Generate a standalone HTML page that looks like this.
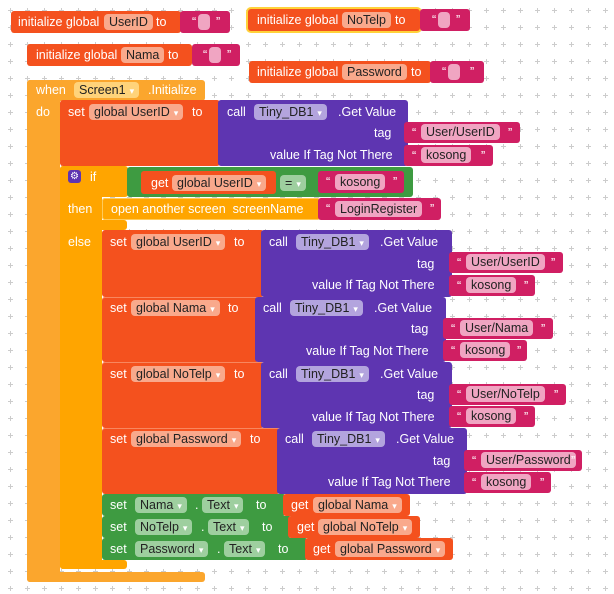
<!DOCTYPE html>
<html><head><meta charset="utf-8"><style>
body{margin:0;width:614px;height:594px;overflow:hidden;background:#fff;font-family:"Liberation Sans",sans-serif;}
#ws{position:absolute;left:0;top:0;width:614px;height:594px;}
.b{position:absolute;border-radius:3px;}
.o{background:#F4511E}.p{background:#5E35B1}.k{background:#D01F63}.g{background:#3E9B41}.y{background:#FFA500}.yo{background:#FBA62D}
.t{position:absolute;color:#fff;font-size:12.5px;line-height:16px;white-space:nowrap}
.f{position:absolute;font-size:12.5px;line-height:16px;height:16px;padding:0 5px;border-radius:4px;color:#222;white-space:nowrap}
.fo{background:#F9A98C}.fp{background:#B3A4DE}.fg{background:#9ECF9F}.fk{background:#F0A5C2}.fy{background:#FFD37A}
.dd{color:#fff;font-size:9px;margin-left:4px}
</style></head><body>
<div id="ws">
<svg width="614" height="594" style="position:absolute;left:0;top:0">
<defs><pattern id="gp" width="17" height="17" patternUnits="userSpaceOnUse" x="2" y="2"><path d="M6 8.5h5M8.5 6v5" stroke="#ccc" stroke-width="1"/></pattern></defs>
<rect width="614" height="594" fill="url(#gp)"/></svg>

<!-- global inits -->
<div class="b o" style="left:11px;top:11px;width:170px;height:22px"></div>
<span class="t" style="left:18px;top:14px">initialize global</span>
<span class="f fo" style="left:104px;top:14px">UserID</span>
<span class="t" style="left:156px;top:14px">to</span>
<div class="b k" style="left:180px;top:11px;width:50px;height:22px"><span class="t" style="left:12px;top:3px">“</span><span class="f fk" style="left:18px;top:3px;width:2px;padding:0 5px"></span><span class="t" style="left:36px;top:3px">”</span></div>

<div class="b o" style="left:248px;top:9px;width:172px;height:22px;box-shadow:0 0 0 2px #FFD23A"></div>
<span class="t" style="left:257px;top:12px">initialize global</span>
<span class="f fo" style="left:342px;top:12px">NoTelp</span>
<span class="t" style="left:395px;top:12px">to</span>
<div class="b k" style="left:420px;top:9px;width:50px;height:22px"><span class="t" style="left:12px;top:3px">“</span><span class="f fk" style="left:18px;top:3px;width:2px"></span><span class="t" style="left:36px;top:3px">”</span></div>

<div class="b o" style="left:27px;top:44px;width:165px;height:22px"></div>
<span class="t" style="left:36px;top:47px">initialize global</span>
<span class="f fo" style="left:121px;top:47px">Nama</span>
<span class="t" style="left:168px;top:47px">to</span>
<div class="b k" style="left:192px;top:44px;width:48px;height:22px"><span class="t" style="left:11px;top:3px">“</span><span class="f fk" style="left:17px;top:3px;width:2px"></span><span class="t" style="left:35px;top:3px">”</span></div>

<div class="b o" style="left:249px;top:61px;width:182px;height:22px"></div>
<span class="t" style="left:257px;top:64px">initialize global</span>
<span class="f fo" style="left:342px;top:64px">Password</span>
<span class="t" style="left:411px;top:64px">to</span>
<div class="b k" style="left:430px;top:61px;width:54px;height:22px"><span class="t" style="left:12px;top:3px">“</span><span class="f fk" style="left:18px;top:3px;width:2px"></span><span class="t" style="left:40px;top:3px">”</span></div>

<!-- when block -->
<div class="b yo" style="left:27px;top:80px;width:178px;height:21px"></div>
<div class="b yo" style="left:27px;top:80px;width:33px;height:502px"></div>
<div class="b yo" style="left:27px;top:572px;width:178px;height:10px"></div>
<span class="t" style="left:36px;top:82px">when</span>
<span class="f fy" style="left:74px;top:82px">Screen1<span class="dd">▾</span></span>
<span class="t" style="left:148px;top:82px">.Initialize</span>
<span class="t" style="left:36px;top:104px">do</span>

<!-- set UserID 1 -->
<div class="b o" style="left:60px;top:100px;width:160px;height:66px"></div>
<span class="t" style="left:68px;top:104px">set</span>
<span class="f fo" style="left:89px;top:104px">global UserID<span class="dd">▾</span></span>
<span class="t" style="left:192px;top:104px">to</span>
<div class="b p" style="left:218px;top:100px;width:190px;height:66px"></div>
<span class="t" style="left:227px;top:104px">call</span>
<span class="f fp" style="left:254px;top:104px">Tiny_DB1<span class="dd">▾</span></span>
<span class="t" style="left:338px;top:104px">.Get Value</span>
<span class="t" style="left:374px;top:125px">tag</span>
<span class="t" style="left:270px;top:147px">value If Tag Not There</span>
<div class="b k" style="left:404px;top:122px;width:116px;height:21px"><span class="t" style="left:8px;top:3px">“</span><span class="f fk" style="left:17px;top:2px">User/UserID</span><span class="t" style="left:104px;top:3px">”</span></div>
<div class="b k" style="left:404px;top:145px;width:89px;height:21px"><span class="t" style="left:8px;top:3px">“</span><span class="f fk" style="left:17px;top:2px">kosong</span><span class="t" style="left:77px;top:3px">”</span></div>

<!-- if block -->
<div class="b y" style="left:60px;top:166px;width:68px;height:31px"></div>
<div class="b y" style="left:60px;top:166px;width:42px;height:403px"></div>
<div class="b y" style="left:60px;top:560px;width:67px;height:9px"></div>
<div class="b y" style="left:60px;top:220px;width:67px;height:10px"></div>
<div class="b" style="left:68px;top:170px;width:13px;height:13px;background:#5E35B1;color:#fff;font-size:10px;line-height:13px;text-align:center">⚙</div>
<span class="t" style="left:90px;top:169px">if</span>
<span class="t" style="left:68px;top:201px">then</span>
<span class="t" style="left:68px;top:234px">else</span>
<div class="b g" style="left:127px;top:167px;width:286px;height:30px"></div>
<div class="b o" style="left:141px;top:171px;width:135px;height:23px"></div>
<span class="t" style="left:151px;top:175px">get</span>
<span class="f fo" style="left:172px;top:175px">global UserID<span class="dd">▾</span></span>
<span class="f fg" style="left:280px;top:175px">=<span class="dd">▾</span></span>
<div class="b k" style="left:318px;top:171px;width:86px;height:22px"><span class="t" style="left:8px;top:3px">“</span><span class="f fk" style="left:17px;top:3px">kosong</span><span class="t" style="left:75px;top:3px">”</span></div>
<div class="b y" style="left:102px;top:198px;width:218px;height:22px;box-shadow:inset 0 0 0 1px #FFCB5A"></div>
<span class="t" style="left:111px;top:201px">open another screen&nbsp; screenName</span>
<div class="b k" style="left:318px;top:198px;width:123px;height:22px"><span class="t" style="left:8px;top:3px">“</span><span class="f fk" style="left:17px;top:3px">LoginRegister</span><span class="t" style="left:112px;top:3px">”</span></div>

<!-- else sets -->
<div class="b o" style="left:102px;top:230px;width:162px;height:67px"></div>
<span class="t" style="left:110px;top:234px">set</span>
<span class="f fo" style="left:131px;top:234px">global UserID<span class="dd">▾</span></span>
<span class="t" style="left:234px;top:234px">to</span>
<div class="b p" style="left:261px;top:230px;width:191px;height:67px"></div>
<span class="t" style="left:269px;top:234px">call</span>
<span class="f fp" style="left:296px;top:234px">Tiny_DB1<span class="dd">▾</span></span>
<span class="t" style="left:380px;top:234px">.Get Value</span>
<span class="t" style="left:417px;top:256px">tag</span>
<span class="t" style="left:312px;top:277px">value If Tag Not There</span>
<div class="b k" style="left:449px;top:252px;width:114px;height:21px"><span class="t" style="left:8px;top:3px">“</span><span class="f fk" style="left:17px;top:2px">User/UserID</span><span class="t" style="left:102px;top:3px">”</span></div>
<div class="b k" style="left:449px;top:275px;width:86px;height:21px"><span class="t" style="left:8px;top:3px">“</span><span class="f fk" style="left:17px;top:2px">kosong</span><span class="t" style="left:75px;top:3px">”</span></div>

<div class="b o" style="left:102px;top:297px;width:157px;height:65px;box-shadow:inset 0 1px 0 #F8875F"></div>
<span class="t" style="left:110px;top:300px">set</span>
<span class="f fo" style="left:131px;top:300px">global Nama<span class="dd">▾</span></span>
<span class="t" style="left:228px;top:300px">to</span>
<div class="b p" style="left:255px;top:297px;width:191px;height:65px"></div>
<span class="t" style="left:263px;top:300px">call</span>
<span class="f fp" style="left:290px;top:300px">Tiny_DB1<span class="dd">▾</span></span>
<span class="t" style="left:374px;top:300px">.Get Value</span>
<span class="t" style="left:411px;top:321px">tag</span>
<span class="t" style="left:306px;top:343px">value If Tag Not There</span>
<div class="b k" style="left:443px;top:318px;width:110px;height:21px"><span class="t" style="left:8px;top:3px">“</span><span class="f fk" style="left:17px;top:2px">User/Nama</span><span class="t" style="left:98px;top:3px">”</span></div>
<div class="b k" style="left:443px;top:340px;width:84px;height:21px"><span class="t" style="left:8px;top:3px">“</span><span class="f fk" style="left:17px;top:2px">kosong</span><span class="t" style="left:74px;top:3px">”</span></div>

<div class="b o" style="left:102px;top:362px;width:162px;height:66px;box-shadow:inset 0 1px 0 #F8875F"></div>
<span class="t" style="left:110px;top:366px">set</span>
<span class="f fo" style="left:131px;top:366px">global NoTelp<span class="dd">▾</span></span>
<span class="t" style="left:234px;top:366px">to</span>
<div class="b p" style="left:261px;top:362px;width:191px;height:66px"></div>
<span class="t" style="left:269px;top:366px">call</span>
<span class="f fp" style="left:296px;top:366px">Tiny_DB1<span class="dd">▾</span></span>
<span class="t" style="left:380px;top:366px">.Get Value</span>
<span class="t" style="left:417px;top:387px">tag</span>
<span class="t" style="left:312px;top:409px">value If Tag Not There</span>
<div class="b k" style="left:449px;top:384px;width:117px;height:21px"><span class="t" style="left:8px;top:3px">“</span><span class="f fk" style="left:17px;top:2px">User/NoTelp</span><span class="t" style="left:105px;top:3px">”</span></div>
<div class="b k" style="left:449px;top:406px;width:86px;height:21px"><span class="t" style="left:8px;top:3px">“</span><span class="f fk" style="left:17px;top:2px">kosong</span><span class="t" style="left:75px;top:3px">”</span></div>

<div class="b o" style="left:102px;top:428px;width:178px;height:66px;box-shadow:inset 0 1px 0 #F8875F"></div>
<span class="t" style="left:110px;top:431px">set</span>
<span class="f fo" style="left:131px;top:431px">global Password<span class="dd">▾</span></span>
<span class="t" style="left:250px;top:431px">to</span>
<div class="b p" style="left:277px;top:428px;width:190px;height:66px"></div>
<span class="t" style="left:285px;top:431px">call</span>
<span class="f fp" style="left:312px;top:431px">Tiny_DB1<span class="dd">▾</span></span>
<span class="t" style="left:396px;top:431px">.Get Value</span>
<span class="t" style="left:433px;top:453px">tag</span>
<span class="t" style="left:328px;top:474px">value If Tag Not There</span>
<div class="b k" style="left:464px;top:450px;width:118px;height:21px"><span class="t" style="left:8px;top:3px">“</span><span class="f fk" style="left:17px;top:2px">User/Password</span><span class="t" style="left:107px;top:3px">”</span></div>
<div class="b k" style="left:464px;top:472px;width:87px;height:21px"><span class="t" style="left:8px;top:3px">“</span><span class="f fk" style="left:17px;top:2px">kosong</span><span class="t" style="left:76px;top:3px">”</span></div>

<!-- set text -->
<div class="b g" style="left:102px;top:494px;width:184px;height:22px"></div>
<span class="t" style="left:110px;top:497px">set</span>
<span class="f fg" style="left:135px;top:497px">Nama<span class="dd">▾</span></span>
<span class="t" style="left:195px;top:497px">.</span>
<span class="f fg" style="left:202px;top:497px">Text<span class="dd">▾</span></span>
<span class="t" style="left:256px;top:497px">to</span>
<div class="b o" style="left:283px;top:494px;width:127px;height:22px"></div>
<span class="t" style="left:291px;top:497px">get</span>
<span class="f fo" style="left:313px;top:497px">global Nama<span class="dd">▾</span></span>

<div class="b g" style="left:102px;top:516px;width:190px;height:22px"></div>
<span class="t" style="left:110px;top:519px">set</span>
<span class="f fg" style="left:135px;top:519px">NoTelp<span class="dd">▾</span></span>
<span class="t" style="left:201px;top:519px">.</span>
<span class="f fg" style="left:208px;top:519px">Text<span class="dd">▾</span></span>
<span class="t" style="left:262px;top:519px">to</span>
<div class="b o" style="left:288px;top:516px;width:132px;height:22px"></div>
<span class="t" style="left:297px;top:519px">get</span>
<span class="f fo" style="left:318px;top:519px">global NoTelp<span class="dd">▾</span></span>

<div class="b g" style="left:102px;top:538px;width:206px;height:22px"></div>
<span class="t" style="left:110px;top:541px">set</span>
<span class="f fg" style="left:135px;top:541px">Password<span class="dd">▾</span></span>
<span class="t" style="left:217px;top:541px">.</span>
<span class="f fg" style="left:224px;top:541px">Text<span class="dd">▾</span></span>
<span class="t" style="left:278px;top:541px">to</span>
<div class="b o" style="left:305px;top:538px;width:148px;height:22px"></div>
<span class="t" style="left:313px;top:541px">get</span>
<span class="f fo" style="left:335px;top:541px">global Password<span class="dd">▾</span></span>
</div>
</body></html>
